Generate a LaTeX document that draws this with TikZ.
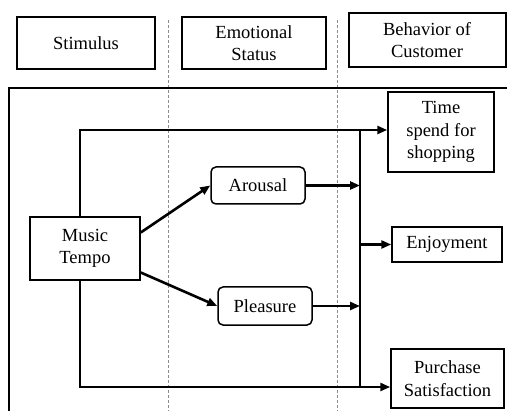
\documentclass[tikz,border=0pt]{standalone}
\usepackage{fontspec}
\setmainfont{Liberation Serif}
\newfontfamily\sorfont{Liberation Serif}
\usepackage{xcolor}
\usetikzlibrary{arrows.meta}
\definecolor{SorGuide}{HTML}{8C8C8C}
\definecolor{SorLine}{HTML}{000000}
\tikzset{
  sor head/.style={
    draw=SorLine, line width=1.5pt, align=center, inner sep=2pt,
    font=\sorfont\fontsize{18.5}{22}\selectfont
  },
  sor box/.style={
    draw=SorLine, line width=1.5pt, align=center, inner sep=2pt,
    font=\sorfont\fontsize{18.5}{22.5}\selectfont
  },
  sor state/.style={
    sor box, rounded corners=5pt
  },
  sor arr/.style={-{Triangle[length=10pt, width=8pt]}, line width=2.6pt},
  sor wire/.style={line width=2.6pt},
  sor guide/.style={SorGuide, line width=0.8pt, dash pattern=on 3pt off 2pt}
}
\begin{document}
\begin{tikzpicture}[x=1pt, y=-1pt]
  \useasboundingbox (0,0) rectangle (508,411);

  % column guides and frame
  \draw[sor guide] (168,20) -- (168,411);
  \draw[sor guide] (337,20) -- (337,411);
  \draw[SorLine, line width=1.5pt] (9,411) -- (9,88) -- (507,88);

  % column heads
  \node[sor head, minimum width=138pt, minimum height=52pt] (stim) at (86,43) {Stimulus};
  \node[sor head, minimum width=144pt, minimum height=52pt] (emo) at (254,43)
    {Emotional\\Status};
  \node[sor head, line width=2pt, minimum width=157pt, minimum height=54pt] (behav) at (427,40)
    {Behavior of\\Customer};

  % model
  \node[sor box, minimum width=110pt, minimum height=63pt] (music) at (85,248.5)
    {Music\\Tempo};
  \node[sor state, minimum width=94pt, minimum height=37pt] (arousal) at (258,185.5) {Arousal};
  \node[sor state, minimum width=94pt, minimum height=38pt] (pleasure) at (265,306) {Pleasure};
  \node[sor box, minimum width=106pt, minimum height=80pt] (timebox) at (441,132)
    {Time\\spend for\\shopping};
  \node[sor box, minimum width=110pt, minimum height=35pt] (enjoy) at (447,244.5) {Enjoyment};
  \node[sor box, minimum width=113pt, minimum height=59pt] (purch) at (447.5,378.5)
    {Purchase\\Satisfaction};

  \coordinate (topleft) at (80,130);
  \coordinate (bartop) at (360,130);
  \coordinate (barbot) at (360,387);

  \draw[sor wire] (bartop) -- (barbot);
  \draw[sor arr] (music.north -| topleft) -- (topleft) -- (timebox.west |- topleft);
  \draw[sor arr] (music.south -| topleft) -- (barbot -| topleft) -- (purch.west |- barbot);
  \draw[sor arr] ([yshift=16pt]music.east) -- (arousal.west);
  \draw[sor arr] ([yshift=-24pt]music.east) -- (pleasure.west);
  \draw[sor arr] (arousal.east) -- (arousal.east -| bartop);
  \draw[sor arr] (pleasure.east) -- (pleasure.east -| bartop);
  \draw[sor arr] (enjoy.west -| bartop) -- (enjoy.west);
\end{tikzpicture}
\end{document}
